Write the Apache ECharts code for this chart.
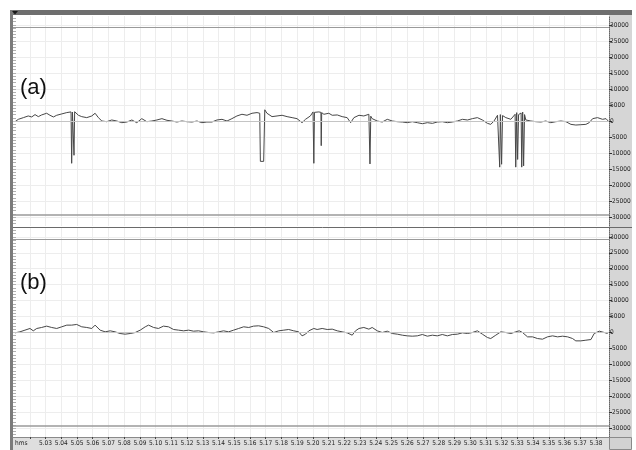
<!DOCTYPE html>
<html><head><meta charset="utf-8">
<script src="https://cdn.jsdelivr.net/npm/echarts@6/dist/echarts.min.js"></script>
<style>html,body{margin:0;padding:0;background:#fff}#c{width:636px;height:450px}</style>
</head><body><div id="c"></div>
<script>
// ---- data (time in ms, amplitude in sample units) ----
const timesA = [5010.6,5012.7,5015.9,5019.0,5021.2,5023.3,5025.4,5027.5,5030.7,5032.8,5035.0,5037.1,5040.3,5043.5,5046.2,5046.6,5047.1,5047.8,5048.1,5048.5,5048.8,5050.9,5053.0,5056.2,5059.4,5061.5,5063.6,5065.8,5068.9,5072.1,5075.3,5078.5,5081.7,5084.9,5088.0,5091.2,5094.4,5097.6,5100.8,5104.0,5107.2,5110.3,5113.5,5116.7,5119.9,5123.1,5126.3,5129.4,5132.6,5135.8,5139.0,5142.2,5145.4,5148.5,5151.7,5154.9,5158.1,5161.3,5164.5,5166.2,5166.6,5168.7,5169.4,5170.8,5174.0,5177.2,5180.4,5183.6,5186.8,5189.9,5193.1,5195.3,5198.4,5200.1,5200.6,5201.0,5201.7,5203.8,5205.1,5205.3,5205.6,5207.0,5210.1,5212.3,5215.5,5218.6,5221.8,5224.0,5226.1,5229.3,5232.4,5235.6,5236.3,5236.8,5237.7,5240.9,5244.1,5247.3,5250.5,5253.7,5256.9,5260.0,5263.2,5266.4,5269.6,5272.8,5276.0,5279.1,5282.3,5285.5,5288.7,5291.9,5295.1,5298.3,5301.4,5304.6,5307.8,5311.0,5313.1,5315.2,5317.4,5318.8,5319.2,5320.0,5320.6,5322.7,5325.9,5328.6,5329.0,5329.6,5330.2,5330.8,5332.4,5332.8,5333.4,5334.0,5334.6,5335.4,5338.6,5341.8,5345.0,5348.1,5351.3,5354.5,5357.7,5360.9,5364.1,5367.2,5370.4,5373.6,5375.7,5377.9,5381.0,5384.2,5386.4,5387.8];
const valuesA = [-210,525,1050,1575,1260,1995,1365,1890,2415,1785,1260,1785,2205,2625,2835,-13200,2800,2600,-10700,2900,3150,1785,1365,1050,1575,2415,1050,0,-210,315,0,-525,-315,315,-525,735,-210,0,315,735,210,0,-315,0,-210,-315,0,-525,-315,-315,315,525,0,735,1575,2100,1785,2415,2625,2415,-12600,-12600,3500,2415,1365,1575,1785,1365,1050,735,-525,525,1575,2835,-13200,2700,2415,2835,2700,-7700,2600,2100,2415,1785,1890,1365,1050,-525,1050,1785,1575,2100,-13400,1500,735,0,-315,525,0,-210,-315,-525,-210,-525,-840,-525,-735,-315,-210,-525,-315,0,525,315,735,1050,315,-735,-1050,0,1785,-14400,2000,-13500,1700,1050,525,2100,-14400,2600,-12000,2000,2500,-14400,2800,-14000,2000,315,0,-210,-315,0,-525,-210,0,-210,-1050,-1260,-1155,-1050,-525,735,1050,525,735,0];
const timesB = [5010.6,5013.7,5016.9,5020.1,5022.2,5024.4,5027.5,5030.7,5033.9,5037.1,5040.3,5043.5,5046.6,5049.8,5053.0,5056.2,5059.4,5061.5,5064.7,5067.9,5071.1,5074.2,5077.4,5080.6,5083.8,5087.0,5090.2,5093.4,5095.5,5098.7,5101.8,5105.0,5108.2,5111.4,5114.6,5117.8,5121.0,5124.1,5127.3,5130.5,5133.7,5136.9,5140.1,5143.2,5146.4,5149.6,5152.8,5156.0,5159.2,5162.3,5165.5,5168.7,5171.9,5175.1,5178.3,5181.5,5184.6,5187.8,5191.0,5193.1,5195.3,5197.4,5200.6,5202.7,5205.9,5209.1,5212.3,5215.5,5218.6,5221.8,5225.0,5227.1,5229.3,5232.4,5235.6,5237.7,5240.9,5244.1,5247.3,5250.5,5253.7,5256.9,5260.0,5263.2,5266.4,5269.6,5272.8,5276.0,5279.1,5282.3,5285.5,5288.7,5291.9,5295.1,5298.3,5301.4,5304.6,5307.8,5311.0,5313.1,5316.3,5319.5,5322.7,5325.9,5329.0,5331.2,5333.3,5336.5,5339.7,5342.8,5346.0,5349.2,5352.4,5355.6,5358.8,5362.0,5365.1,5367.2,5370.4,5373.6,5376.8,5378.9,5382.1,5385.3,5387.4];
const valuesB = [-105,210,735,1260,525,1260,1575,1995,1575,1260,1785,2310,2310,2520,1785,1575,1260,2310,735,210,525,210,-315,-525,-315,0,735,1785,2310,1575,1260,1995,1785,945,735,525,735,420,525,210,0,-105,210,525,210,735,1260,1785,1575,1995,2100,1785,1260,0,525,735,945,525,210,-1050,-525,525,1260,945,1260,945,1050,525,210,-105,-840,525,1260,1575,1050,1575,525,0,420,-315,-525,-840,-1050,-1155,-1050,-630,-1155,-840,-1050,-630,-1050,-630,-525,-105,-315,0,525,-525,-1575,-1890,-840,210,0,-315,210,525,0,-1365,-1365,-1890,-2100,-1365,-1050,-1365,-1155,-1365,-1890,-2625,-2625,-2415,-2205,-315,420,0,-315];
// ---- axis ticks / labels ----
const yTicks = [-30000,-25000,-20000,-15000,-10000,-5000,0,5000,10000,15000,20000,25000,30000];
const xGridTicks = [5020,5030,5040,5050,5060,5070,5080,5090,5100,5110,5120,5130,5140,5150,5160,5170,5180,5190,5200,5210,5220,5230,5240,5250,5260,5270,5280,5290,5300,5310,5320,5330,5340,5350,5360,5370,5380];
const xLabelTicks = [5030,5040,5050,5060,5070,5080,5090,5100,5110,5120,5130,5140,5150,5160,5170,5180,5190,5200,5210,5220,5230,5240,5250,5260,5270,5280,5290,5300,5310,5320,5330,5340,5350,5360,5370,5380];
const panelLabels = ['(a)', '(b)'];
const timeUnitLabel = 'hms';
const guideLevel = 29200;
const fullScale = 32768;
const tMin = 5009.3, tMax = 5388.3;

const FONT = "'Liberation Sans Narrow','DejaVu Sans Condensed','Liberation Sans',sans-serif";
const pairs = (t, v) => t.map((x, i) => [x, v[i]]);

const rulerTicks = [];
for (let v = -32000; v <= 32000; v += 1000) rulerTicks.push(v);

function rightY(gi) {
  return {
    gridIndex: gi, type: 'value', position: 'right', min: -fullScale, max: fullScale,
    axisLine: { show: true, onZero: false, lineStyle: { color: '#666', type: 'dotted', width: 1 } },
    axisTick: { show: true, inside: false, length: 3, customValues: yTicks, lineStyle: { color: '#333' } },
    axisLabel: { show: true, customValues: yTicks, fontSize: 6.5, color: '#222', margin: 1, fontFamily: FONT,
      formatter: v => String(v) },
    splitLine: { show: true, lineStyle: { color: '#ededed', width: 1 } }
  };
}
function leftY(gi) {
  return {
    gridIndex: gi, type: 'value', position: 'left', min: -fullScale, max: fullScale,
    axisLine: { show: false, onZero: false },
    axisTick: { show: true, inside: true, length: 3, customValues: rulerTicks, lineStyle: { color: '#b0b0b0' } },
    axisLabel: { show: false }, splitLine: { show: false }
  };
}
function markLines() {
  return {
    silent: true, symbol: 'none', animation: false, label: { show: false },
    data: [
      { yAxis: 0, lineStyle: { color: '#c4c4c4', width: 1, type: 'solid' } },
      { yAxis: guideLevel, lineStyle: { color: '#9a9a9a', width: 1, type: 'solid' } },
      { yAxis: -guideLevel, lineStyle: { color: '#9a9a9a', width: 1.5, type: 'solid' } }
    ]
  };
}

const chart = echarts.init(document.getElementById('c'), null, { renderer: 'canvas' });
chart.setOption({
  animation: false,
  backgroundColor: '#fff',
  grid: [
    { left: 13, right: 27, top: 16, height: 210 },
    { left: 13, right: 27, top: 228, height: 209 }
  ],
  xAxis: [
    { gridIndex: 0, type: 'value', min: tMin, max: tMax,
      axisLine: { show: false, onZero: false }, axisTick: { show: false, customValues: xGridTicks },
      axisLabel: { show: false, customValues: xGridTicks },
      splitLine: { show: true, lineStyle: { color: '#ededed' } } },
    { gridIndex: 1, type: 'value', min: tMin, max: tMax, position: 'bottom',
      axisLine: { show: true, onZero: false, lineStyle: { color: '#8a8a8a' } },
      axisTick: { show: true, length: 2, customValues: xGridTicks, lineStyle: { color: '#444' } },
      axisLabel: { show: true, customValues: xLabelTicks, fontSize: 6.5, color: '#222', margin: 3, fontFamily: FONT,
        formatter: v => (v / 1000).toFixed(2) },
      splitLine: { show: true, lineStyle: { color: '#ededed' } } }
  ],
  yAxis: [rightY(0), rightY(1), leftY(0), leftY(1)],
  series: [
    { type: 'line', xAxisIndex: 0, yAxisIndex: 0, data: pairs(timesA, valuesA), showSymbol: false,
      lineStyle: { color: '#474747', width: 1 }, markLine: markLines(), clip: true, z: 3 },
    { type: 'line', xAxisIndex: 1, yAxisIndex: 1, data: pairs(timesB, valuesB), showSymbol: false,
      lineStyle: { color: '#474747', width: 1 }, markLine: markLines(), clip: true, z: 3 }
  ],
  graphic: [
    { type: 'rect', z: -1, shape: { x: 609, y: 15, width: 23, height: 422 }, style: { fill: '#d6d6d6' } },
    { type: 'rect', z: -1, shape: { x: 13, y: 437, width: 596, height: 13 }, style: { fill: '#dedede' } },
    { type: 'rect', shape: { x: 609.5, y: 437.5, width: 22, height: 12 }, style: { fill: '#d2d2d2', stroke: '#8a8a8a', lineWidth: 1 } },
    { type: 'rect', shape: { x: 10, y: 10, width: 622, height: 5 }, style: { fill: '#6e6e6e' } },
    { type: 'rect', shape: { x: 10, y: 10, width: 3, height: 440 }, style: { fill: '#7b7b7b' } },
    { type: 'line', shape: { x1: 13, y1: 227.5, x2: 632, y2: 227.5 }, style: { stroke: '#6a6a6a', lineWidth: 1 } },
    { type: 'polygon', shape: { points: [[12, 11], [18, 11], [15, 14.5]] }, style: { fill: '#1a1a1a' } },
    { type: 'text', z: 100, x: 20, y: 77, style: { text: panelLabels[0], font: "22px 'Liberation Sans',Arial,sans-serif", fill: '#111' } },
    { type: 'text', z: 100, x: 20, y: 272, style: { text: panelLabels[1], font: "22px 'Liberation Sans',Arial,sans-serif", fill: '#111' } },
    { type: 'text', z: 100, x: 15, y: 440, style: { text: timeUnitLabel, font: "6.5px " + FONT, fill: '#222' } }
  ]
});
</script></body></html>
